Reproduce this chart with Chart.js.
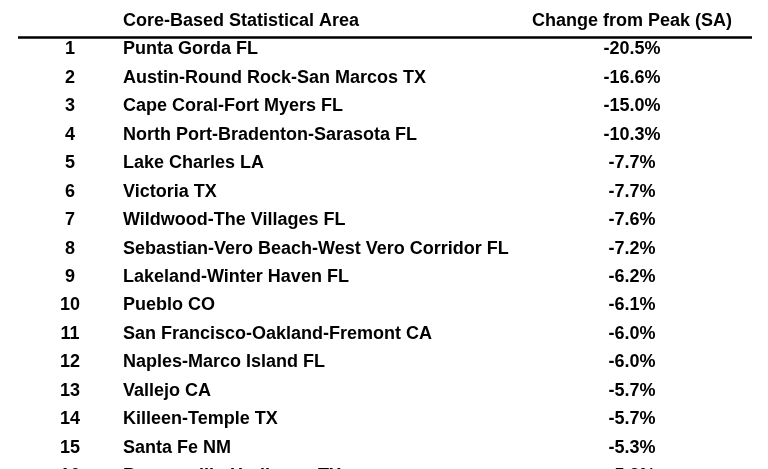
<!DOCTYPE html>
<html>
<head>
<meta charset="utf-8">
<script src="https://cdn.jsdelivr.net/npm/chart.js@4"></script>
<style>
  html, body { margin: 0; padding: 0; background: #fff; }
  #wrap { width: 768px; height: 469px; }
</style>
</head>
<body>
<div id="wrap"><canvas id="tbl"></canvas></div>
<script>
const ranks = [1, 2, 3, 4, 5, 6, 7, 8, 9, 10, 11, 12, 13, 14, 15, 16];
const areas = [
  'Punta Gorda FL',
  'Austin-Round Rock-San Marcos TX',
  'Cape Coral-Fort Myers FL',
  'North Port-Bradenton-Sarasota FL',
  'Lake Charles LA',
  'Victoria TX',
  'Wildwood-The Villages FL',
  'Sebastian-Vero Beach-West Vero Corridor FL',
  'Lakeland-Winter Haven FL',
  'Pueblo CO',
  'San Francisco-Oakland-Fremont CA',
  'Naples-Marco Island FL',
  'Vallejo CA',
  'Killeen-Temple TX',
  'Santa Fe NM',
  'Brownsville-Harlingen TX'
];
const changes = [-20.5, -16.6, -15.0, -10.3, -7.7, -7.7, -7.6, -7.2, -6.2, -6.1, -6.0, -6.0, -5.7, -5.7, -5.3, -5.2];
const headers = ['Core-Based Statistical Area', 'Change from Peak (SA)'];

const FONT = 'bold 18px "Liberation Sans", Arial, sans-serif';

// draws the table text at positions given by the chart's own scales
const tablePlugin = {
  id: 'tableText',
  afterDatasetsDraw(chart) {
    const ctx = chart.ctx;
    const x = chart.scales.x, y = chart.scales.y;
    ctx.save();
    ctx.fillStyle = '#000';
    ctx.textBaseline = 'middle';
    ctx.font = FONT;

    ctx.textAlign = 'left';
    ctx.fillText(headers[0], x.getPixelForValue(123), y.getPixelForValue(0));
    ctx.textAlign = 'center';
    ctx.fillText(headers[1], x.getPixelForValue(632), y.getPixelForValue(0));

    ctx.strokeStyle = '#000';
    ctx.lineWidth = 2.5;
    ctx.beginPath();
    ctx.moveTo(x.getPixelForValue(18), y.getPixelForValue(0.58));
    ctx.lineTo(x.getPixelForValue(752), y.getPixelForValue(0.58));
    ctx.stroke();

    ranks.forEach((r, i) => {
      const py = y.getPixelForValue(r);
      ctx.textAlign = 'center';
      ctx.fillText(String(r), x.getPixelForValue(70), py);
      ctx.textAlign = 'left';
      ctx.fillText(areas[i], x.getPixelForValue(123), py);
      ctx.textAlign = 'center';
      ctx.fillText(changes[i].toFixed(1) + '%', x.getPixelForValue(632), py);
    });
    ctx.restore();
  }
};

new Chart(document.getElementById('tbl').getContext('2d'), {
  type: 'scatter',
  data: {
    datasets: [{
      data: ranks.map((r, i) => ({ x: 632, y: r, v: changes[i] })),
      pointRadius: 0,
      showLine: false
    }]
  },
  options: {
    responsive: true,
    maintainAspectRatio: false,
    animation: false,
    layout: { padding: 0 },
    plugins: { legend: { display: false }, tooltip: { enabled: false } },
    scales: {
      x: { type: 'linear', min: 0, max: 768, display: false },
      y: { type: 'linear', reverse: true, min: -0.74, max: 15.75, display: false }
    }
  },
  plugins: [tablePlugin]
});
</script>
</body>
</html>
